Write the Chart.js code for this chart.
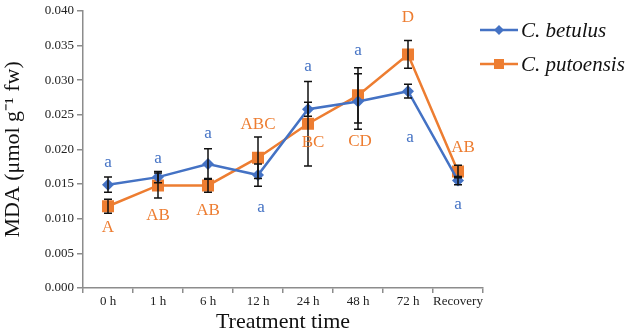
<!DOCTYPE html>
<html>
<head>
<meta charset="utf-8">
<script src="https://cdn.jsdelivr.net/npm/chart.js@4.4.1/dist/chart.umd.min.js"></script>
<style>
  html, body { margin: 0; padding: 0; background: #fff; }
  #wrap { width: 628px; height: 329px; }
</style>
</head>
<body>
<div id="wrap"><canvas id="chartJSContainer"></canvas></div>
<script>
// MDA content over treatment time
var categories = ['0 h', '1 h', '6 h', '12 h', '24 h', '48 h', '72 h', 'Recovery'];
var yTicks = [0, 0.005, 0.010, 0.015, 0.020, 0.025, 0.030, 0.035, 0.040];

var betulus = [0.0149, 0.0160, 0.0179, 0.0163, 0.0258, 0.0269, 0.0284, 0.0155];
var betulusErr = [0.0011, 0.0008, 0.0022, 0.0016, 0.0010, 0.0040, 0.0010, 0.0006];
var betulusLetters = ['a', 'a', 'a', 'a', 'a', 'a', 'a', 'a'];

var putoensis = [0.0118, 0.0148, 0.0148, 0.0188, 0.0237, 0.0278, 0.0337, 0.0168];
var putoensisErr = [0.0010, 0.0018, 0.0010, 0.0030, 0.0061, 0.0040, 0.0020, 0.0009];
var putoensisLetters = ['A', 'AB', 'AB', 'ABC', 'BC', 'CD', 'D', 'AB'];

// where each letter sits relative to its point, in pixels
var betulusLetterDx = [0, 0, 0, 3, 0, 0, 2, 0];
var betulusLetterDy = [-22, -19, -30, 32, -43, -51, 46, 24];
var putoensisLetterDx = [0, 0, 0, 0, 5, 2, 0, 5];
var putoensisLetterDy = [21, 30, 25, -33, 19, 46, -37, -24];

var blue = '#4472C4';
var orange = '#ED7D31';
var axisGrey = '#8c8c8c';
var serif = "'Liberation Serif', 'Times New Roman', serif";

var errors = [betulusErr, putoensisErr];
var letters = [betulusLetters, putoensisLetters];
var letterDx = [betulusLetterDx, putoensisLetterDx];
var letterDy = [betulusLetterDy, putoensisLetterDy];

var errorBars = {
  id: 'errorBars',
  afterDatasetsDraw: function (chart) {
    var ctx = chart.ctx, y = chart.scales.y;
    ctx.save();
    ctx.strokeStyle = '#111';
    ctx.lineWidth = 1.5;
    chart.data.datasets.forEach(function (ds, i) {
      var meta = chart.getDatasetMeta(i);
      meta.data.forEach(function (pt, j) {
        var top = y.getPixelForValue(ds.data[j] + errors[i][j]);
        var bot = y.getPixelForValue(ds.data[j] - errors[i][j]);
        ctx.beginPath();
        ctx.moveTo(pt.x, top); ctx.lineTo(pt.x, bot);
        ctx.moveTo(pt.x - 4, top); ctx.lineTo(pt.x + 4, top);
        ctx.moveTo(pt.x - 4, bot); ctx.lineTo(pt.x + 4, bot);
        ctx.stroke();
      });
    });
    ctx.restore();
  }
};

var letterLabels = {
  id: 'letterLabels',
  afterDatasetsDraw: function (chart) {
    var ctx = chart.ctx;
    ctx.save();
    ctx.font = '17px ' + serif;
    ctx.textAlign = 'center';
    ctx.textBaseline = 'middle';
    chart.data.datasets.forEach(function (ds, i) {
      var meta = chart.getDatasetMeta(i);
      ctx.fillStyle = ds.borderColor;
      meta.data.forEach(function (pt, j) {
        ctx.fillText(letters[i][j], pt.x + letterDx[i][j], pt.y + letterDy[i][j]);
      });
    });
    ctx.restore();
  }
};

var sideLegend = {
  id: 'sideLegend',
  afterDraw: function (chart) {
    var ctx = chart.ctx;
    var rows = [30, 64];
    ctx.save();
    chart.data.datasets.forEach(function (ds, i) {
      var yy = rows[i];
      ctx.strokeStyle = ds.borderColor;
      ctx.lineWidth = 2.5;
      ctx.beginPath();
      ctx.moveTo(480, yy); ctx.lineTo(518, yy);
      ctx.stroke();
      ctx.fillStyle = ds.borderColor;
      ctx.beginPath();
      if (ds.pointStyle === 'rectRot') {
        ctx.moveTo(499, yy - 5); ctx.lineTo(504, yy); ctx.lineTo(499, yy + 5); ctx.lineTo(494, yy);
      } else {
        ctx.rect(494, yy - 5, 10, 10);
      }
      ctx.fill();
      ctx.fillStyle = '#111';
      ctx.font = 'italic 21px ' + serif;
      ctx.textAlign = 'left';
      ctx.textBaseline = 'middle';
      ctx.fillText(ds.label, 521, yy + 1);
    });
    ctx.restore();
  }
};

var options = {
  type: 'line',
  data: {
    labels: categories,
    datasets: [
      {
        label: 'C. betulus',
        data: betulus,
        borderColor: blue,
        backgroundColor: blue,
        pointBackgroundColor: blue,
        pointBorderColor: blue,
        borderWidth: 2.5,
        pointStyle: 'rectRot',
        pointRadius: 6,
        pointBorderWidth: 0,
        tension: 0
      },
      {
        label: 'C. putoensis',
        data: putoensis,
        borderColor: orange,
        backgroundColor: orange,
        pointBackgroundColor: orange,
        pointBorderColor: orange,
        borderWidth: 2.5,
        pointStyle: 'rect',
        pointRadius: 8.5,
        pointBorderWidth: 0,
        tension: 0
      }
    ]
  },
  options: {
    responsive: true,
    maintainAspectRatio: false,
    animation: false,
    layout: { padding: { top: 6, right: 145, left: 0, bottom: 0 } },
    plugins: {
      legend: { display: false },
      tooltip: { enabled: false }
    },
    scales: {
      x: {
        offset: true,
        grid: { offset: true, drawOnChartArea: false, drawTicks: true, tickLength: 5, color: axisGrey, lineWidth: 1.5 },
        border: { color: axisGrey, width: 1.5 },
        ticks: { color: '#222', font: { family: serif, size: 13 }, padding: 1, maxRotation: 0, autoSkip: false },
        title: {
          display: true,
          text: 'Treatment time',
          color: '#111',
          font: { family: serif, size: 22, lineHeight: 1 },
          padding: { top: 0, bottom: -4 }
        },
        afterFit: function (s) { s.height = 41; }
      },
      y: {
        min: 0,
        max: 0.04,
        afterBuildTicks: function (s) { s.ticks = yTicks.map(function (v) { return { value: v }; }); },
        grid: { drawOnChartArea: false, drawTicks: true, tickLength: 6, color: axisGrey, lineWidth: 1.5 },
        border: { color: axisGrey, width: 1.5 },
        ticks: {
          color: '#222',
          font: { family: serif, size: 13 },
          padding: 3,
          callback: function (v) { return Number(v).toFixed(3); }
        },
        title: {
          display: true,
          text: 'MDA (μmol g⁻¹ fw)',
          color: '#111',
          font: { family: serif, size: 22, lineHeight: 1.2 },
          padding: 0
        },
        afterFit: function (s) { s.width = 83; }
      }
    }
  },
  plugins: [errorBars, letterLabels, sideLegend]
};

var ctx = document.getElementById('chartJSContainer');
var mdaChart = new Chart(ctx, options);
</script>
</body>
</html>
